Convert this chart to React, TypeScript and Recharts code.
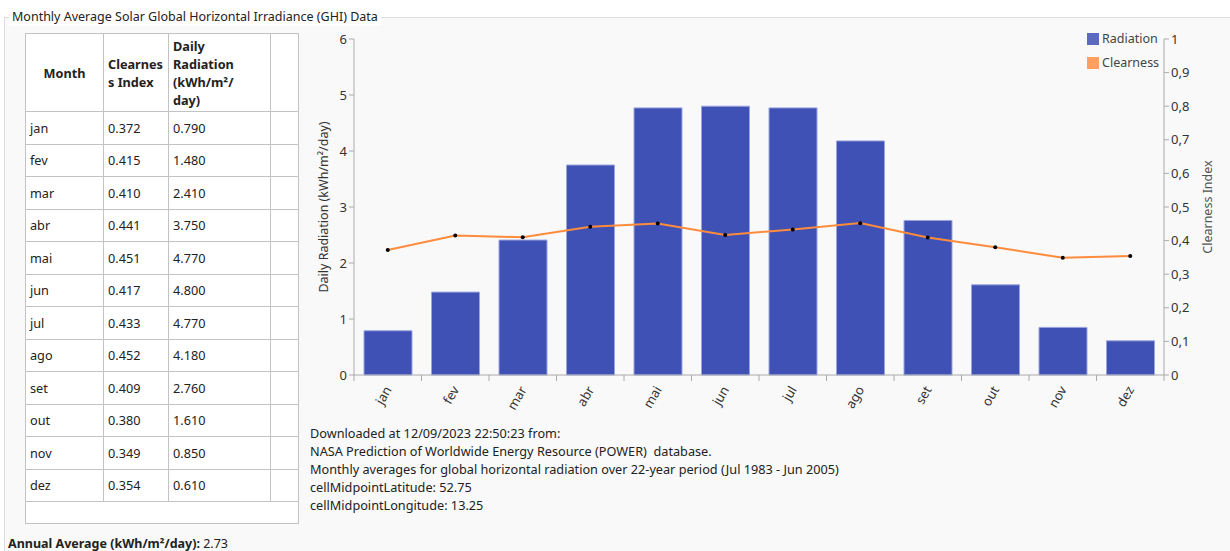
import { ComposedChart, Bar, Line, XAxis, YAxis } from 'recharts';

const months = ['jan', 'fev', 'mar', 'abr', 'mai', 'jun', 'jul', 'ago', 'set', 'out', 'nov', 'dez'];
const clearness = [0.372, 0.415, 0.41, 0.441, 0.451, 0.417, 0.433, 0.452, 0.409, 0.38, 0.349, 0.354];
const radiation = [0.79, 1.48, 2.41, 3.75, 4.77, 4.8, 4.77, 4.18, 2.76, 1.61, 0.85, 0.61];
const leftTicks = [0, 1, 2, 3, 4, 5, 6];
const rightTicks = [0, 0.1, 0.2, 0.3, 0.4, 0.5, 0.6, 0.7, 0.8, 0.9, 1];
const infoLines = [
  'Downloaded at 12/09/2023 22:50:23 from:',
  'NASA Prediction of Worldwide Energy Resource (POWER)  database.',
  'Monthly averages for global horizontal radiation over 22-year period (Jul 1983 - Jun 2005)',
  'cellMidpointLatitude: 52.75',
  'cellMidpointLongitude: 13.25',
];
const annualAverage = '2.73';

const FONT = '"Noto Sans", "Open Sans", sans-serif';
const BLUE = '#3f51b5';
const ORANGE = '#ff8c3c';

const chartData = months.map((m, i) => ({ month: m, radiation: radiation[i], clearness: clearness[i] }));

function MonthTick(props: any) {
  const { x, y, payload, index } = props;
  const half = payload.offset ?? 33.75;
  return (
    <g>
      <line x1={x - half} y1={y - 8} x2={x - half} y2={y - 2} stroke="#aaa" />
      {index === months.length - 1 && <line x1={x + half} y1={y - 8} x2={x + half} y2={y - 2} stroke="#aaa" />}
      <text
        x={x}
        y={y + 4}
        transform={`rotate(-60 ${x} ${y + 4})`}
        textAnchor="end"
        dominantBaseline="central"
        fontSize={13}
        fill="#333"
        fontFamily={FONT}
      >
        {payload.value}
      </text>
    </g>
  );
}

const cell: React.CSSProperties = {
  border: '1px solid #c3c3c3',
  padding: '0 4px',
  fontSize: 12.7,
  color: '#222',
  textAlign: 'left',
};

export default function App() {
  return (
    <div style={{ position: 'absolute', left: 0, top: 0, width: 1230, height: 551, background: '#fff', fontFamily: FONT, overflow: 'hidden' }}>
      <div style={{ position: 'absolute', left: 4, top: 17, width: 1226, height: 534, background: '#f9f9f9', borderTop: '1px solid #dcdcdc', borderLeft: '1px solid #dcdcdc' }} />
      <div style={{ position: 'absolute', left: 9, top: 8, padding: '0 3px', background: '#fff', fontSize: 12.5, color: '#222', lineHeight: '18px' }}>
        Monthly Average Solar Global Horizontal Irradiance (GHI) Data
      </div>

      <table style={{ position: 'absolute', left: 25, top: 33, borderCollapse: 'collapse', background: '#fff', tableLayout: 'fixed', width: 273 }}>
        <colgroup>
          <col style={{ width: 78 }} />
          <col style={{ width: 65 }} />
          <col style={{ width: 102 }} />
          <col style={{ width: 28 }} />
        </colgroup>
        <thead>
          <tr style={{ height: 78 }}>
            <th style={{ ...cell, textAlign: 'center', fontWeight: 700 }}>Month</th>
            <th style={{ ...cell, fontWeight: 700, lineHeight: '18px' }}>
              Clearnes
              <br />s Index
            </th>
            <th style={{ ...cell, fontWeight: 700, lineHeight: '18px' }}>
              Daily
              <br />
              Radiation
              <br />
              (kWh/m²/
              <br />
              day)
            </th>
            <th style={cell} />
          </tr>
        </thead>
        <tbody>
          {months.map((m, i) => (
            <tr key={m} style={{ height: 32.5 }}>
              <td style={cell}>{m}</td>
              <td style={cell}>{clearness[i].toFixed(3)}</td>
              <td style={cell}>{radiation[i].toFixed(3)}</td>
              <td style={cell} />
            </tr>
          ))}
          <tr style={{ height: 22 }}>
            <td colSpan={4} style={cell} />
          </tr>
        </tbody>
      </table>

      <div style={{ position: 'absolute', left: 8, top: 537, fontSize: 12.5, color: '#222', lineHeight: '14px' }}>
        <b>Annual Average (kWh/m²/day):</b> {annualAverage}
      </div>

      <div style={{ position: 'absolute', left: 300, top: 20 }}>
        <ComposedChart width={930} height={410} data={chartData} margin={{ top: 19, right: 10, left: 0, bottom: 0 }} barSize={48}>
          <XAxis
            dataKey="month"
            height={55}
            stroke="#aaa"
            tickLine={false}
            tick={<MonthTick />}
            interval={0}
          />
          <YAxis
            yAxisId="left"
            width={54}
            domain={[0, 6]}
            ticks={leftTicks}
            stroke="#aaa"
            tickSize={5}
            tick={{ fill: '#333', fontSize: 13, fontFamily: FONT }}
            label={{ value: 'Daily Radiation (kWh/m²/day)', angle: -90, position: 'center', dx: -3, fill: '#333', fontSize: 12.5, fontFamily: FONT }}
          />
          <YAxis
            yAxisId="right"
            orientation="right"
            width={56}
            domain={[0, 1]}
            ticks={rightTicks}
            stroke="#aaa"
            tickSize={5}
            tickFormatter={(v: number) => String(v).replace('.', ',')}
            tick={{ fill: '#333', fontSize: 13, fontFamily: FONT }}
            label={{ value: 'Clearness Index', angle: -90, position: 'center', dx: 16, fill: '#555', fontSize: 12.5, fontFamily: FONT }}
          />
          <Bar yAxisId="left" dataKey="radiation" fill={BLUE} stroke="#9aa5e0" strokeWidth={1} isAnimationActive={false} />
          <Line
            yAxisId="right"
            dataKey="clearness"
            type="linear"
            stroke={ORANGE}
            strokeWidth={2}
            dot={{ r: 2, fill: '#000', stroke: '#000', strokeWidth: 0 }}
            activeDot={false}
            isAnimationActive={false}
          />
        </ComposedChart>
      </div>

      <div style={{ position: 'absolute', left: 1087, top: 27, fontSize: 12.5, color: '#444', lineHeight: '24px' }}>
        <div style={{ display: 'flex', alignItems: 'center' }}>
          <span style={{ width: 12, height: 12, background: '#5c6bc0', marginRight: 3 }} />Radiation
        </div>
        <div style={{ display: 'flex', alignItems: 'center' }}>
          <span style={{ width: 12, height: 12, background: '#ffa060', marginRight: 3 }} />Clearness
        </div>
      </div>

      <div style={{ position: 'absolute', left: 310, top: 424, fontSize: 12.7, color: '#222', lineHeight: '18px' }}>
        {infoLines.map((t) => (
          <div key={t} style={{ whiteSpace: 'pre' }}>{t}</div>
        ))}
      </div>
    </div>
  );
}
